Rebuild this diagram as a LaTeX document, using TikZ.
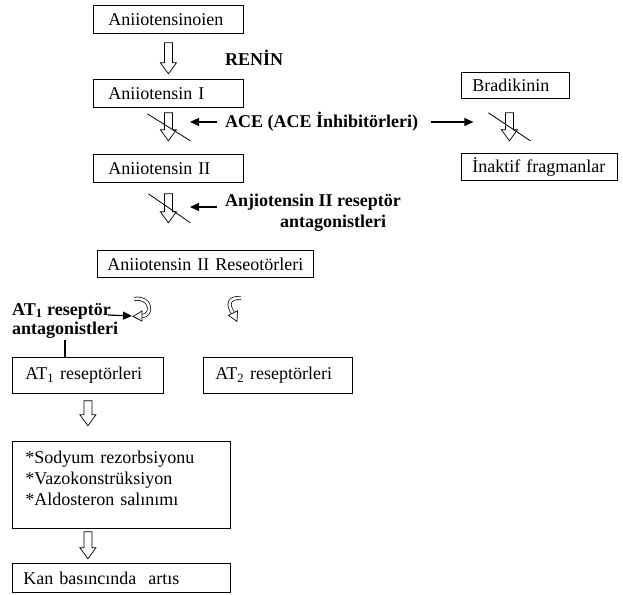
\documentclass[tikz,border=0pt]{standalone}
\usepackage{fontspec}
\setmainfont{Liberation Serif}
\usetikzlibrary{calc,arrows.meta}
\begin{document}
\begin{tikzpicture}[x=1pt,y=-1pt,
  font=\fontsize{18}{21}\selectfont,
  box/.style={draw, line width=0.8pt, anchor=north west, align=left, inner ysep=0pt},
  lbl/.style={anchor=west, inner sep=0pt, font=\fontsize{18}{21}\selectfont\bfseries},
  larrow/.style={line width=1.2pt, -{Triangle[length=9pt,width=8pt]}},
  slash/.style={line width=0.8pt},
  curv/.style={line width=0.7pt, double=white, double distance=2.6pt},
  headw/.style={line width=0.7pt, fill=white, line join=miter},
  pics/harrow/.style={code={\draw[line width=0.7pt, fill=white, line join=miter]
     (-4,0) -- (4,0) -- (4,#1-11) -- (8,#1-11) -- (0,#1) -- (-8,#1-11) -- (-4,#1-11) -- cycle;}},
]
\useasboundingbox[fill=white] (0,0) rectangle (623,594);

% boxes
\node[box, minimum width=150pt, minimum height=28pt, text width=120pt, inner xsep=15pt] (b1) at (93,5) {\mbox{Aniiotensinoien}};
\node[box, minimum width=150pt, minimum height=28pt, text width=120pt, inner xsep=15pt] (b2) at (93,79) {\mbox{Aniiotensin I}};
\node[box, minimum width=150pt, minimum height=28pt, text width=120pt, inner xsep=15pt] (b3) at (93,154) {\mbox{Aniiotensin II}};
\node[box, minimum width=216pt, minimum height=27pt, text width=196pt, inner xsep=10pt] (b4) at (97,250) {\mbox{Aniiotensin II Reseotörleri}};
\node[box, minimum width=108pt, minimum height=26pt, text width=86pt, inner xsep=11pt] (brad) at (461,72) {\mbox{Bradikinin}};
\node[box, minimum width=156pt, minimum height=27pt, text width=134pt, inner xsep=11pt] (inak) at (461,153) {\mbox{İnaktif fragmanlar}};
\node[box, minimum width=151pt, minimum height=36pt, text width=125pt, inner xsep=13pt] (at1box) at (12,357) {\mbox{AT\textsubscript{1} reseptörleri}};
\node[box, minimum width=149pt, minimum height=36pt, text width=125pt, inner xsep=12pt] (at2box) at (203,357) {\mbox{AT\textsubscript{2} reseptörleri}};
\node[box, minimum width=218pt, minimum height=87pt, text width=192pt, inner xsep=13pt] (eff) at (12,441)
  {*Sodyum rezorbsiyonu\\\relax *Vazokonstrüksiyon\\\relax *Aldosteron salınımı\\[-8pt]\mbox{}};
\node[box, minimum width=218pt, minimum height=29pt, text width=196pt, inner xsep=11pt] (kan) at (12,563) {\mbox{Kan basıncında\ \ artıs}};

% labels
\node[lbl] (renin) at (225,58) {RENİN};
\node[lbl] (ace) at (225,122) {ACE (ACE İnhibitörleri)};
\node[lbl] (anj1) at (225,202) {Anjiotensin II reseptör};
\node[lbl] (anj2) at (280,223) {antagonistleri};
\node[lbl] (at1t) at (12,311) {AT\textsubscript{1} reseptör};
\node[lbl] (at1a) at (12,330) {antagonistleri};

% hollow block arrows
\pic at ($(b1.south)+(0,9)$) {harrow=31};
\pic at ($(b2.south)+(0,5)$) {harrow=28};
\pic at ($(b3.south)+(0,11)$) {harrow=29};
\pic at ($(brad.south)+(-6,14)$) {harrow=28};
\pic at ($(at1box.south)+(0,7)$) {harrow=25};
\pic at ($(at1box.south |- eff.south)+(0,3)$) {harrow=27};

% slashes
\coordinate (x2) at ($(b2.south)+(0,19)$);
\draw[slash] ($(x2)+(-21,-13)$) -- ($(x2)+(22,14)$);
\coordinate (x3) at ($(b3.south)+(0,25)$);
\draw[slash] ($(x3)+(-20,-14)$) -- ($(x3)+(22,15)$);
\coordinate (x6) at ($(brad.south)+(-6,28)$);
\draw[slash] ($(x6)+(-21,-14)$) -- ($(x6)+(21,14)$);

% filled arrows
\draw[larrow] ([xshift=-8pt]ace.west) -- ([xshift=-35pt]ace.west);
\draw[larrow] ([xshift=13pt]ace.east) -- ([xshift=55pt]ace.east);
\draw[larrow] ([xshift=-8pt,yshift=-5pt]anj1.west) -- ([xshift=-35pt,yshift=-5pt]anj1.west);

% curved arrows
\draw[curv] (134,299) .. controls (152,296) and (153,316) .. (142,316);
\draw[headw] (142,311) -- (142,321) -- (133,316.5) -- cycle;
\coordinate (ca1) at (132,316);
\draw[curv] (241,298) .. controls (227,297) and (228,306) .. (233,313);
\draw[headw] (228.5,315.3) -- (237.5,310.8) -- (237,321.5) -- cycle;

\draw[larrow] ([xshift=-3pt,yshift=-4pt]at1t.east) -- (ca1);
\coordinate (v1) at (65,340);
\draw[line width=1.2pt] (v1) -- (v1 |- at1box.north);
\end{tikzpicture}
\end{document}
